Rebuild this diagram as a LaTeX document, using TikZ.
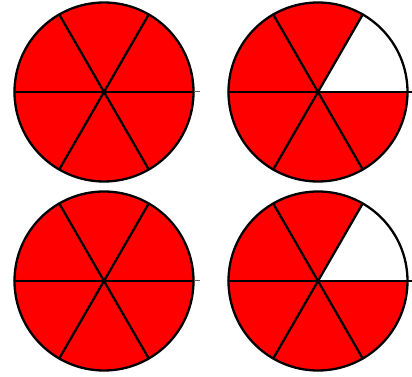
\documentclass[tikz,border=0pt]{standalone}
\usepackage{tikz}
\usetikzlibrary{calc}
\newcommand{\PieR}{89.5}

\begin{document}
\begin{tikzpicture}[
    x=1pt,y=1pt,
    wedge/.style={fill=red},
    hole/.style={fill=white},
    spoke/.style={draw=black,line width=2.3pt,line cap=round},
    rim/.style={draw=black,line width=2.3pt},
    tail/.style={draw=black!60,line width=1pt}
  ]
    \useasboundingbox (0,0) rectangle (412,377);
    \coordinate (tl) at (104,285);
    \coordinate (tr) at (318,285);
    \coordinate (bl) at (104,96);
    \coordinate (br) at (318,96);

    % full discs
    \foreach \c in {tl,tr,bl,br}
      \fill[wedge] (\c) circle (\PieR);
    % one sixth left out
    \foreach \c in {tr,br}
      \fill[hole] (\c) -- ++(0:\PieR) arc (0:60:\PieR) -- cycle;
    % six slices
    \foreach \c in {tl,tr,bl,br}
      \foreach \a in {0,60,120}
        \draw[spoke] ($(\c)+(\a:\PieR)$) -- ($(\c)+(\a+180:\PieR)$);
    \foreach \c in {tl,tr,bl,br}
      \draw[rim] (\c) circle (\PieR);
    % short stubs
    \foreach \c in {tl,bl}
      \draw[tail] ($(\c)+(\PieR,0)$) -- ++(6,0);
    \foreach \c in {tr,br}
      \draw[spoke,line cap=butt] ($(\c)+(\PieR,0)$) -- ++(4,0);
\end{tikzpicture}
\end{document}
